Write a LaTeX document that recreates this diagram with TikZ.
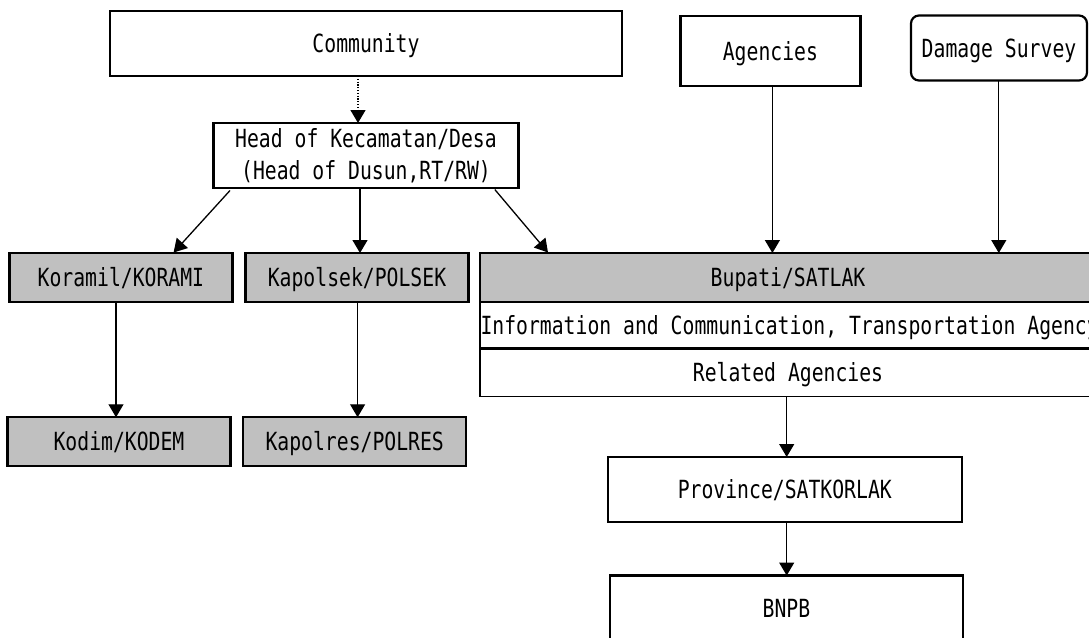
\documentclass[tikz,border=0pt]{standalone}
\usepackage{fontspec}
\usetikzlibrary{arrows.meta}
\newfontfamily\gothic[FakeStretch=0.79]{DejaVu Sans Mono}
\definecolor{boxgray}{RGB}{192,192,192}
\begin{document}
\begin{tikzpicture}[x=1pt,y=-1pt,
  box/.style={draw, line width=2.2pt, inner sep=0pt, outer sep=0pt,
    font=\gothic\fontsize{25}{31.6}\selectfont, align=center,
    text height=18.2pt, text depth=0pt},
  greybox/.style={box, fill=boxgray},
  plain/.style={inner sep=0pt, outer sep=0pt,
    font=\gothic\fontsize{25}{31.6}\selectfont,
    text height=18.2pt, text depth=0pt},
  link/.style={line width=1.3pt, -{Triangle[width=15pt,length=13pt]}},
  dotlink/.style={link, dash pattern=on 1.2pt off 1.6pt}]
\useasboundingbox (0,0) rectangle (1089,637);
\clip (0,0) rectangle (1089,637);
\fill[white] (0,0) rectangle (1089,637);

% top row
\node[box, minimum width=512pt, minimum height=65pt] (community) at (366,43.5) {Community};
\node[box, minimum width=180pt, minimum height=70pt] (agencies) at (770.4,50.9) {Agencies};
\node[box, rounded corners=8pt, minimum width=176pt, minimum height=65pt] (damage) at (999,48) {Damage Survey};

% village head
\node[draw, line width=2.2pt, inner sep=0pt, outer sep=0pt, align=center,
  font=\gothic\fontsize{25}{31.6}\selectfont,
  minimum width=305pt, minimum height=65pt] (head) at (366,155.5)
  {Head of Kecamatan/Desa\\(Head of Dusun,RT/RW)};

% second row
\node[greybox, minimum width=223pt, minimum height=49pt] (koramil) at (120.9,277.5) {Koramil/KORAMI};
\node[greybox, minimum width=223pt, minimum height=49pt] (kapolsek) at (357,277.5) {Kapolsek/POLSEK};
\node[greybox, minimum width=616pt, minimum height=49pt] (bupati) at (788,277.5) {Bupati/SATLAK};
\node[draw, line width=2.2pt, inner sep=0pt, outer sep=0pt,
  minimum width=616pt, minimum height=46.5pt] (info) at (788,325.25) {};
\node[plain, anchor=west] (infotext) at (480.5,325.5) {Information and Communication, Transportation Agency};
\node[box, line width=1.8pt, minimum width=616pt, minimum height=48pt] (related) at (788,372.5) {Related Agencies};

% third row
\node[greybox, minimum width=223pt, minimum height=48.5pt] (kodim) at (119,441.5) {Kodim/KODEM};
\node[greybox, minimum width=223pt, minimum height=48.5pt] (kapolres) at (354.7,441.5) {Kapolres/POLRES};

% provincial and national level
\node[box, minimum width=354pt, minimum height=65pt] (province) at (784.8,489.5) {Province/SATKORLAK};
\node[box, minimum width=353pt, minimum height=65pt] (bnpb) at (786.4,608) {BNPB};

% connectors
\draw[dotlink] (community.south -| 358,0) -- (head.north -| 358,0);
\draw[link] (230,190.5) -- (173.6,252.5);
\draw[link] (head.south -| 360,0) -- (kapolsek.north -| 360,0);
\draw[link] (494.8,189.5) -- (548,252.5);
\draw[link] (agencies.south -| 772.4,0) -- (bupati.north -| 772.4,0);
\draw[link] (damage.south -| 998.8,0) -- (bupati.north -| 998.8,0);
\draw[link] (koramil.south -| 116,0) -- (kodim.north -| 116,0);
\draw[link] (kapolsek.south -| 357.6,0) -- (kapolres.north -| 357.6,0);
\draw[link] (related.south -| 786.7,0) -- (province.north -| 786.7,0);
\draw[link] (province.south -| 786.7,0) -- (bnpb.north -| 786.7,0);
\end{tikzpicture}
\end{document}
